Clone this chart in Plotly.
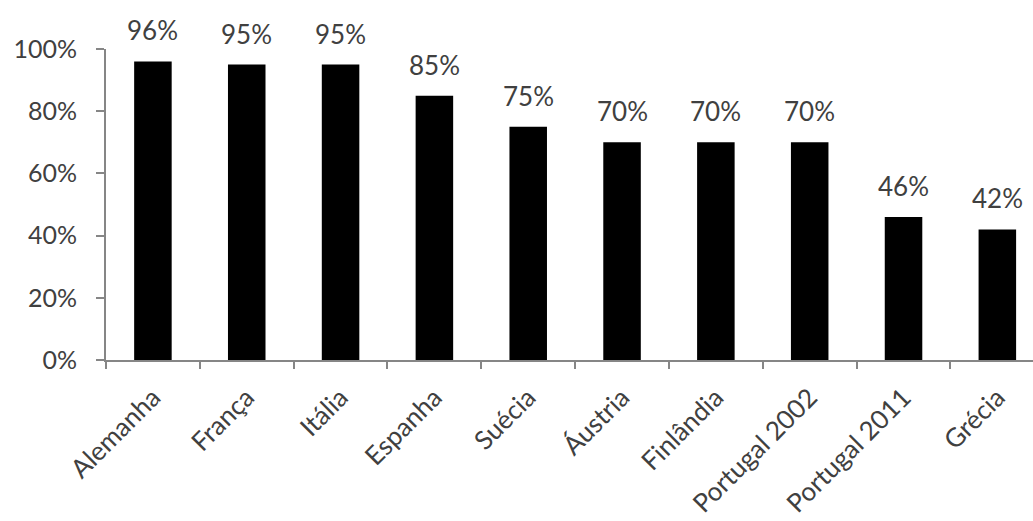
import plotly.graph_objects as go

categories = ["Alemanha", "França", "Itália", "Espanha", "Suécia", "Áustria",
              "Finlândia", "Portugal 2002", "Portugal 2011", "Grécia"]
values = [0.96, 0.95, 0.95, 0.85, 0.75, 0.70, 0.70, 0.70, 0.46, 0.42]
labels = ["96%", "95%", "95%", "85%", "75%", "70%", "70%", "70%", "46%", "42%"]
y_ticks = [0, 0.2, 0.4, 0.6, 0.8, 1.0]
y_tick_text = ["0%", "20%", "40%", "60%", "80%", "100%"]

FONT = "Lato"
TXT = "#404040"
AX = "#868686"

fig = go.Figure(go.Bar(x=categories, y=values, marker=dict(color="black", line=dict(width=0)),
                       hoverinfo="skip"))

for c, v, t in zip(categories, values, labels):
    fig.add_annotation(x=c, y=v, text=t, showarrow=False, yanchor="bottom", yshift=13,
                       font=dict(family=FONT, size=26, color=TXT))

fig.update_layout(
    width=1033, height=521,
    margin=dict(l=106, r=0, t=49, b=161),
    paper_bgcolor="white", plot_bgcolor="white",
    bargap=0.6,
    showlegend=False,
    font=dict(family=FONT, size=25, color=TXT),
)
fig.update_xaxes(
    range=[-0.5, 9.38], showline=True, linecolor=AX, linewidth=2,
    ticks="outside", tickson="boundaries", ticklen=7, tickcolor=AX, tickwidth=2,
    tickangle=-45, showgrid=False, zeroline=False, ticklabelstandoff=10,
    tickfont=dict(family=FONT, size=26, color=TXT),
)
fig.update_yaxes(
    range=[0, 1.0], showline=True, linecolor=AX, linewidth=2,
    ticks="outside", ticklen=8, tickcolor=AX, tickwidth=2,
    tickvals=y_ticks, ticktext=y_tick_text, showgrid=False, zeroline=False,
    ticklabelstandoff=14,
    tickfont=dict(family=FONT, size=25, color=TXT),
)

fig.write_html("out.html")
